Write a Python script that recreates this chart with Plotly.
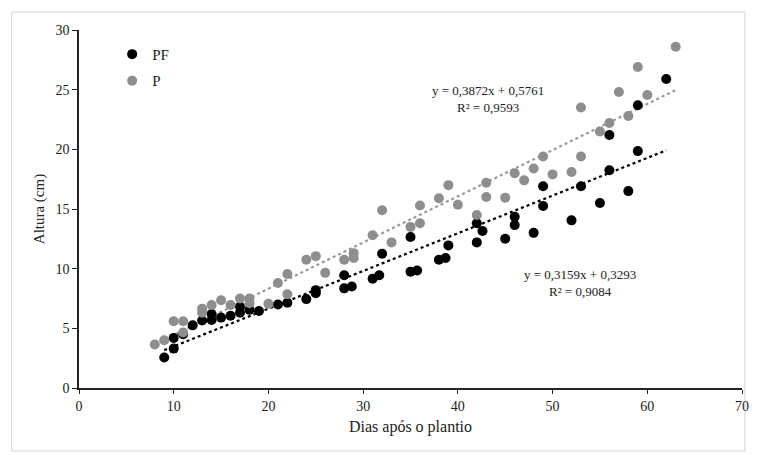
import plotly.graph_objects as go

# Plant height (cm) by days after planting, two treatments
pf_dias = [9, 10, 10, 11, 12, 13, 14, 14, 15, 16, 17, 17, 18, 19, 21, 22, 24, 25, 25,
           28, 28, 28.8, 31, 31.7, 32, 35, 35, 35.7, 38, 38.7, 39, 42, 42, 42.6, 45,
           46, 46, 48, 49, 49, 52, 53, 55, 56, 56, 58, 59, 59, 62]
pf_altura = [2.55, 4.2, 3.3, 4.5, 5.25, 5.65, 6.2, 5.7, 5.9, 6.05, 6.8, 6.3, 6.55, 6.45,
             7.0, 7.15, 7.45, 8.2, 7.95, 9.45, 8.35, 8.5, 9.15, 9.45, 11.25, 12.65, 9.75,
             9.85, 10.75, 10.9, 11.95, 13.8, 12.2, 13.15, 12.5, 14.35, 13.65, 13.0, 16.9,
             15.25, 14.05, 16.9, 15.5, 21.2, 18.25, 16.5, 23.7, 19.85, 25.9]

p_dias = [8, 9, 10, 11, 11, 13, 13, 14, 15, 16, 17, 18, 18, 20, 21, 22, 22, 24, 25, 26,
          28, 29, 29, 31, 32, 33, 35, 36, 36, 38, 39, 40, 42, 43, 43, 45, 46, 47, 48, 49,
          50, 52, 53, 53, 55, 56, 57, 58, 59, 60, 63]
p_altura = [3.65, 4.0, 5.6, 5.6, 4.65, 6.65, 6.3, 6.95, 7.35, 6.95, 7.5, 7.5, 7.1, 7.05,
            8.8, 9.55, 7.85, 10.75, 11.05, 9.65, 10.75, 11.3, 10.9, 12.8, 14.9, 12.2, 13.5,
            15.3, 13.8, 15.9, 17.0, 15.35, 14.5, 17.2, 16.0, 15.95, 18.0, 17.4, 18.4, 19.4,
            17.9, 18.1, 23.5, 19.4, 21.5, 22.2, 24.8, 22.8, 26.9, 24.55, 28.6]

# Linear trend coefficients (slope, intercept, R²)
pf_fit = (0.3159, 0.3293, 0.9084)
p_fit = (0.3872, 0.5761, 0.9593)

x_ticks = [0, 10, 20, 30, 40, 50, 60, 70]
y_ticks = [0, 5, 10, 15, 20, 25, 30]

FONT = "Liberation Serif"
INK = "#222222"
BLACK = "#000000"
GRAY = "#8e8e8e"

W, H = 759, 455
L, R, T, B = 79, 10, 30, 67


def trend(xs, fit):
    a, b, _ = fit
    x0, x1 = min(xs), max(xs)
    return [x0, x1], [a * x0 + b, a * x1 + b]


def fmt(v, nd=4):
    return f"{v:.{nd}f}".replace(".", ",")


fig = go.Figure()

tx, ty = trend(pf_dias, pf_fit)
fig.add_trace(go.Scatter(x=tx, y=ty, mode="lines", showlegend=False, hoverinfo="skip",
                         line=dict(color=BLACK, width=2.2, dash="dot")))
tx, ty = trend(p_dias, p_fit)
fig.add_trace(go.Scatter(x=tx, y=ty, mode="lines", showlegend=False, hoverinfo="skip",
                         line=dict(color="#9a9a9a", width=2.2, dash="dot")))

fig.add_trace(go.Scatter(x=pf_dias, y=pf_altura, mode="markers", name="PF",
                         legendgroup="PF",
                         marker=dict(color=BLACK, size=10, line=dict(width=0))))
fig.add_trace(go.Scatter(x=p_dias, y=p_altura, mode="markers", name="P",
                         legendgroup="P",
                         marker=dict(color=GRAY, size=10, line=dict(width=0))))

# Regression equations
fig.add_annotation(x=43.2, y=24.2, xref="x", yref="y", showarrow=False,
                   text=f"y = {fmt(p_fit[0])}x + {fmt(p_fit[1])}<br>R² = {fmt(p_fit[2])}",
                   font=dict(family=FONT, size=13, color=INK), align="center")
fig.add_annotation(x=52.85, y=8.8, xref="x", yref="y", showarrow=False,
                   text=f"y = {fmt(pf_fit[0])}x + {fmt(pf_fit[1])}<br>R² = {fmt(pf_fit[2])}",
                   font=dict(family=FONT, size=13, color=INK), align="center")

# Light outer frame around the chart
pw, ph = W - L - R, H - T - B
fig.add_shape(type="rect", xref="paper", yref="paper",
              x0=(11 - L) / pw, x1=(752 - L) / pw,
              y0=(H - B - 451) / ph, y1=(H - B - 12) / ph,
              line=dict(color="#d4d4d4", width=1), fillcolor="rgba(0,0,0,0)", layer="below")

fig.update_layout(
    width=W, height=H,
    margin=dict(l=L, r=R, t=T, b=B),
    paper_bgcolor="white", plot_bgcolor="white",
    font=dict(family=FONT, size=14, color=INK),
    showlegend=True,
    legend=dict(x=0.05, y=0.978, xanchor="left", yanchor="top",
                bgcolor="rgba(0,0,0,0)", font=dict(family=FONT, size=15, color=INK),
                tracegroupgap=4, itemwidth=30),
    xaxis=dict(range=[0, 70], tickvals=x_ticks, showgrid=False, zeroline=False,
               showline=True, linecolor=INK, linewidth=1.5,
               ticks="outside", ticklen=4, tickcolor=INK,
               tickfont=dict(family=FONT, size=14, color=INK),
               title=dict(text="Dias após o plantio", standoff=8,
                          font=dict(family=FONT, size=16, color=INK))),
    yaxis=dict(range=[0, 30], tickvals=y_ticks, showgrid=False, zeroline=False,
               showline=True, linecolor=INK, linewidth=1.5,
               ticks="outside", ticklen=5, tickcolor=INK,
               tickfont=dict(family=FONT, size=14, color=INK),
               title=dict(text="Altura (cm)", standoff=7,
                          font=dict(family=FONT, size=15, color=INK))),
)

fig.write_html("out.html")
